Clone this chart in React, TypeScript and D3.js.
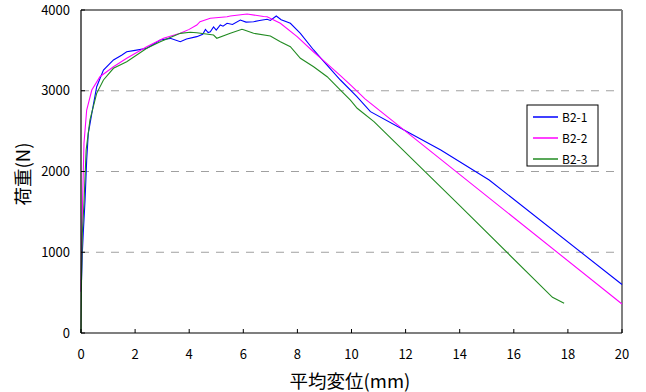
import React from "react";
import * as d3 from "d3";

const xTicks = [0, 2, 4, 6, 8, 10, 12, 14, 16, 18, 20];
const yTicks = [0, 1000, 2000, 3000, 4000];
const seriesNames = ["B2-1", "B2-2", "B2-3"];
const seriesColors = ["#0000ff", "#ff00ff", "#228b22"];

const b21X = [0, 0.02, 0.05, 0.09, 0.15, 0.21, 0.27, 0.4, 0.58, 0.83, 1.2, 1.5, 1.69, 2.0, 2.43, 2.7, 2.93, 3.3, 3.67, 3.9, 4.28, 4.5, 4.6, 4.7, 4.78, 4.9, 5.0, 5.15, 5.25, 5.4, 5.6, 5.89, 6.1, 6.38, 6.6, 6.88, 7.0, 7.22, 7.4, 7.74, 8.11, 8.6, 8.98, 9.59, 10.2, 10.7, 12.06, 13.3, 15.09, 20.0];
const b21Y = [650, 656, 1000, 1275, 1647, 2142, 2473, 2720, 3050, 3257, 3381, 3440, 3483, 3500, 3526, 3580, 3628, 3649, 3608, 3640, 3670, 3700, 3760, 3720, 3731, 3790, 3750, 3814, 3800, 3835, 3820, 3876, 3850, 3855, 3870, 3885, 3870, 3926, 3880, 3835, 3711, 3505, 3360, 3133, 2926, 2741, 2493, 2266, 1895, 600];

const b22X = [0, 0.03, 0.06, 0.11, 0.21, 0.4, 0.7, 1.2, 1.69, 2.43, 3.05, 3.67, 4.0, 4.28, 4.4, 4.78, 5.4, 5.52, 6.14, 6.75, 6.88, 7.37, 7.99, 8.6, 8.98, 9.3, 9.6, 10.0, 10.5, 20.0];
const b22Y = [511, 1200, 1647, 2349, 2761, 3009, 3174, 3298, 3402, 3546, 3649, 3711, 3760, 3814, 3855, 3897, 3917, 3926, 3950, 3920, 3917, 3835, 3670, 3480, 3370, 3275, 3185, 3060, 2900, 359];

const b23X = [0, 0.02, 0.05, 0.11, 0.19, 0.33, 0.58, 0.83, 1.2, 1.69, 2.43, 2.93, 3.67, 4.04, 4.28, 4.9, 5.02, 5.52, 5.95, 6.01, 6.38, 7.0, 7.37, 7.74, 8.11, 8.6, 9.1, 9.59, 9.96, 10.21, 10.83, 14.04, 17.43, 17.86];
const b23Y = [0, 700, 1236, 1606, 2266, 2638, 2968, 3133, 3278, 3360, 3526, 3608, 3711, 3724, 3719, 3690, 3650, 3711, 3761, 3755, 3711, 3678, 3608, 3546, 3402, 3298, 3174, 3009, 2885, 2783, 2617, 1564, 442, 368];

const seriesX = [b21X, b22X, b23X];
const seriesY = [b21Y, b22Y, b23Y];

export default function App() {
  const W = 646, H = 392;
  const x = d3.scaleLinear().domain([0, 20]).range([81, 622]);
  const y = d3.scaleLinear().domain([0, 4000]).range([333, 10]);
  const line = d3.line<[number, number]>().x(d => x(d[0])).y(d => y(d[1]));
  const font = "'Noto Sans CJK JP', 'DejaVu Sans', sans-serif";
  return (
    <svg width={W} height={H} style={{ position: "absolute", left: 0, top: 0, background: "#fff" }} fontFamily={font}>
      <rect x={0} y={0} width={W} height={H} fill="#fff" />
      {yTicks.filter(t => t > 0 && t < 4000).map(t => (
        <line key={t} x1={x(0)} x2={x(20)} y1={y(t)} y2={y(t)} stroke="#a0a0a0" strokeWidth={1} strokeDasharray="8,7" />
      ))}
      <line x1={x(0)} x2={x(20)} y1={y(4000)} y2={y(4000)} stroke="#000" strokeWidth={1.2} />
      <line x1={x(20)} x2={x(20)} y1={y(4000)} y2={y(0)} stroke="#808080" strokeWidth={2} />
      {seriesNames.map((n, i) => (
        <path key={n} d={line(seriesX[i].map((v, j) => [v, seriesY[i][j]] as [number, number])) || ""} fill="none" stroke={seriesColors[i]} strokeWidth={1.1} />
      ))}
      <line x1={x(0)} x2={x(0)} y1={y(4000)} y2={y(0)} stroke="#000" strokeWidth={1.2} />
      <line x1={x(0)} x2={x(20)} y1={y(0)} y2={y(0)} stroke="#000" strokeWidth={1.2} />
      {xTicks.map(t => (
        <g key={t}>
          <line x1={x(t)} x2={x(t)} y1={y(0)} y2={y(0) - 4} stroke="#000" />
          <text x={x(t)} y={359} textAnchor="middle" fontSize={13} fill="#000">{t}</text>
        </g>
      ))}
      {yTicks.map(t => (
        <g key={t}>
          <line x1={x(0)} x2={x(0) + 4} y1={y(t)} y2={y(t)} stroke="#000" />
          <text x={70} y={y(t) + 4.5} textAnchor="end" fontSize={13} fill="#000">{t}</text>
        </g>
      ))}
      <text x={350} y={388} textAnchor="middle" fontSize={18.5} fill="#000">平均変位(mm)</text>
      <text transform={`translate(30,174) rotate(-90)`} textAnchor="middle" fontSize={18.5} fill="#000">荷重(N)</text>
      <rect x={527} y={105} width={71} height={61} fill="#fff" stroke="#000" strokeWidth={1} />
      {seriesNames.map((n, i) => (
        <g key={n}>
          <line x1={533} x2={558} y1={117 + i * 21} y2={117 + i * 21} stroke={seriesColors[i]} strokeWidth={1.5} />
          <text x={562} y={121.5 + i * 21} fontSize={12} fill="#000">{n}</text>
        </g>
      ))}
    </svg>
  );
}
